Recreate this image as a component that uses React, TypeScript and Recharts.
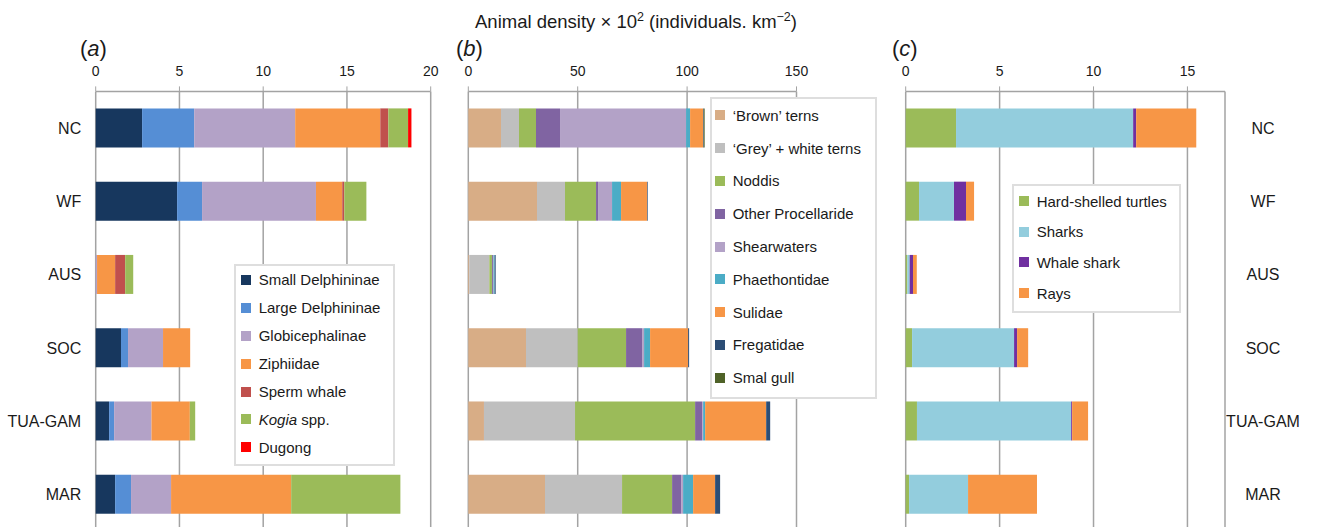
import React from "react"
import { BarChart, Bar, XAxis, YAxis, CartesianGrid, Legend } from "recharts"

// sites (rows, top to bottom)
const sites = ["NC", "WF", "AUS", "SOC", "TUA-GAM", "MAR"]

// (a) cetaceans + dugong
const smallDelphininae = [2.77, 4.86, 0, 1.51, 0.8, 1.16]
const largeDelphininae = [3.11, 1.49, 0, 0.42, 0.3, 0.95]
const globicephalinae = [6.03, 6.8, 0.08, 2.09, 2.23, 2.39]
const ziphiidae = [5.08, 1.57, 1.08, 1.62, 2.29, 7.17]
const spermWhale = [0.48, 0.12, 0.6, 0, 0, 0]
const kogia = [1.18, 1.32, 0.48, 0, 0.32, 6.52]
const dugong = [0.2, 0, 0, 0, 0, 0]

// (b) seabirds
const brownTerns = [14.94, 31.4, 0.46, 26.37, 7.16, 35.06]
const greyTerns = [8.23, 12.8, 9.15, 23.63, 41.62, 35.21]
const noddis = [7.77, 14.18, 1.2, 22.1, 54.88, 22.87]
const otherProcellaride = [10.98, 0.92, 0.45, 7.32, 3.2, 4.12]
const shearwaters = [57.62, 6.4, 0.3, 0.92, 0.46, 0.91]
const phaethontidae = [1.83, 4.12, 0.5, 2.74, 0.92, 4.57]
const sulidae = [5.95, 11.9, 0, 17.38, 27.9, 10.06]
const fregatidae = [0.3, 0.3, 0.45, 0.46, 1.83, 2.29]
const smalGull = [0.4, 0, 0, 0, 0, 0]

// (c) turtles, sharks, rays
const turtles = [2.68, 0.71, 0.09, 0.34, 0.6, 0.18]
const sharks = [9.43, 1.86, 0.12, 5.43, 8.21, 3.14]
const whaleShark = [0.16, 0.64, 0.18, 0.16, 0.05, 0]
const rays = [3.2, 0.43, 0.2, 0.59, 0.85, 3.67]

const ticksA = [0, 5, 10, 15, 20]
const ticksB = [0, 50, 100, 150]
const ticksC = [0, 5, 10, 15]
const boundaryTicks = [1, 2, 3, 4, 5]

type Series = { key: string; label: React.ReactNode; color: string; values: number[] }

const seriesA: Series[] = [
  { key: "sd", label: "Small Delphininae", color: "#17375E", values: smallDelphininae },
  { key: "ld", label: "Large Delphininae", color: "#558ED5", values: largeDelphininae },
  { key: "gl", label: "Globicephalinae", color: "#B3A2C7", values: globicephalinae },
  { key: "zi", label: "Ziphiidae", color: "#F79646", values: ziphiidae },
  { key: "sw", label: "Sperm whale", color: "#C0504D", values: spermWhale },
  { key: "ko", label: <><i>Kogia</i> spp.</>, color: "#9BBB59", values: kogia },
  { key: "du", label: "Dugong", color: "#FF0000", values: dugong },
]

const seriesB: Series[] = [
  { key: "bt", label: "\u2018Brown\u2019 terns", color: "#D8AD86", values: brownTerns },
  { key: "gt", label: "\u2018Grey\u2019 + white terns", color: "#BFBFBF", values: greyTerns },
  { key: "no", label: "Noddis", color: "#9BBB59", values: noddis },
  { key: "op", label: "Other Procellaride", color: "#8064A2", values: otherProcellaride },
  { key: "sh", label: "Shearwaters", color: "#B3A2C7", values: shearwaters },
  { key: "ph", label: "Phaethontidae", color: "#4BACC6", values: phaethontidae },
  { key: "su", label: "Sulidae", color: "#F79646", values: sulidae },
  { key: "fr", label: "Fregatidae", color: "#2C4D75", values: fregatidae },
  { key: "sg", label: "Smal gull", color: "#4F6228", values: smalGull },
]

const seriesC: Series[] = [
  { key: "tu", label: "Hard-shelled turtles", color: "#9BBB59", values: turtles },
  { key: "sk", label: "Sharks", color: "#93CDDD", values: sharks },
  { key: "ws", label: "Whale shark", color: "#7030A0", values: whaleShark },
  { key: "ra", label: "Rays", color: "#F79646", values: rays },
]

const FONT = "'Liberation Sans', Arial, sans-serif"
const GRID = "#a3a3a3"
const TEXT = "#1a1a1a"

function rows(series: Series[]) {
  return sites.map((site, i) => {
    const row: Record<string, number | string> = { site }
    series.forEach((s) => (row[s.key] = s.values[i]))
    return row
  })
}

function LegendBox({ series, rowH, padX, gap }: { series: Series[]; rowH: number; padX: number; gap: number }) {
  return (
    <div
      style={{
        boxSizing: "border-box",
        border: "2px solid #dedede",
        background: "#fff",
        fontFamily: FONT,
        fontSize: 15,
        color: TEXT,
        paddingBottom: 3,
      }}
    >
      {series.map((s) => (
        <div key={s.key} style={{ display: "flex", alignItems: "center", height: rowH, whiteSpace: "nowrap" }}>
          <span style={{ width: 10, height: 10, background: s.color, marginLeft: padX, marginRight: gap, flex: "none" }} />
          <span>{s.label}</span>
        </div>
      ))}
    </div>
  )
}

interface PanelProps {
  series: Series[]
  ticks: number[]
  max: number
  width: number
  left: number
  margin: { top: number; right: number; bottom: number; left: number }
  labels: "left" | "right" | "none"
  legend: { left: number; top: number; width: number; rowH: number; padX: number }
}

function Panel({ series, ticks, max, width, left, margin, labels, legend }: PanelProps) {
  const tickStyle = { fill: TEXT, fontSize: 16, fontFamily: FONT }
  return (
    <div style={{ position: "absolute", left, top: 0 }}>
      <BarChart width={width} height={531} data={rows(series)} layout="vertical" margin={margin}>
        <CartesianGrid horizontal={false} stroke={GRID} strokeWidth={1.5} />
        <XAxis
          type="number"
          orientation="top"
          domain={[0, max]}
          ticks={ticks}
          height={30}
          tickSize={5}
          tickMargin={10}
          stroke={GRID}
          tick={{ fill: TEXT, fontSize: 14, fontFamily: FONT }}
          axisLine={{ stroke: GRID, strokeWidth: 1.5 }}
        />
        {labels !== "none" && (
          <YAxis
            yAxisId="edge"
            type="number"
            orientation={labels}
            domain={[0, 6]}
            ticks={boundaryTicks}
            width={0}
            tick={false}
            tickSize={5}
            stroke={GRID}
            axisLine={{ stroke: GRID, strokeWidth: 1.5 }}
          />
        )}
        <YAxis
          type="category"
          dataKey="site"
          orientation={labels === "right" ? "right" : "left"}
          hide={labels === "none"}
          width={labels === "left" ? 95.7 : 97}
          tickSize={0}
          tickMargin={labels === "left" ? 14.5 : 38}
          axisLine={false}
          tickLine={false}
          interval={0}
          tick={labels === "right" ? { ...tickStyle, textAnchor: "middle" } : tickStyle}
        />
        {series.map((s) => (
          <Bar key={s.key} dataKey={s.key} stackId="s" fill={s.color} barSize={39} isAnimationActive={false} />
        ))}
        <Legend
          layout="vertical"
          align="center"
          verticalAlign="middle"
          wrapperStyle={{ left: legend.left, top: legend.top, width: legend.width, right: "auto", bottom: "auto" }}
          content={() => <LegendBox series={series} rowH={legend.rowH} padX={legend.padX} gap={7.7} />}
        />
      </BarChart>
    </div>
  )
}

export default function App() {
  return (
    <div style={{ position: "fixed", left: 0, top: 0, width: 1322, height: 527, overflow: "hidden", background: "#fff" }}>
      <svg width={1322} height={70} style={{ position: "absolute", left: 0, top: 0, fontFamily: FONT }}>
        <text x={636} y={28} textAnchor="middle" fontSize={18.5} fill={TEXT}>
          Animal density × 10
          <tspan fontSize={12.5} dy={-7}>2</tspan>
          <tspan dy={7}> (individuals. km</tspan>
          <tspan fontSize={12.5} dy={-7}>−2</tspan>
          <tspan dy={7}>)</tspan>
        </text>
        <text x={80} y={56} fontSize={22} fill={TEXT}>(<tspan fontStyle="italic">a</tspan>)</text>
        <text x={456} y={56} fontSize={22} fill={TEXT}>(<tspan fontStyle="italic">b</tspan>)</text>
        <text x={892} y={56} fontSize={22} fill={TEXT}>(<tspan fontStyle="italic">c</tspan>)</text>
      </svg>
      <Panel
        series={seriesA}
        ticks={ticksA}
        max={20}
        width={440}
        left={0}
        margin={{ top: 61.4, right: 9.3, bottom: 0, left: 0 }}
        labels="left"
        legend={{ left: 234, top: 264, width: 161, rowH: 27.9, padX: 5 }}
      />
      <Panel
        series={seriesB}
        ticks={ticksB}
        max={150}
        width={440}
        left={440}
        margin={{ top: 61.4, right: 83.5, bottom: 0, left: 28.3 }}
        labels="none"
        legend={{ left: 270, top: 97, width: 167, rowH: 32.8, padX: 3 }}
      />
      <Panel
        series={seriesC}
        ticks={ticksC}
        max={17}
        width={442}
        left={880}
        margin={{ top: 61.4, right: 0, bottom: 0, left: 25.7 }}
        labels="right"
        legend={{ left: 132.3, top: 183.7, width: 168.4, rowH: 30.7, padX: 4.7 }}
      />
    </div>
  )
}
